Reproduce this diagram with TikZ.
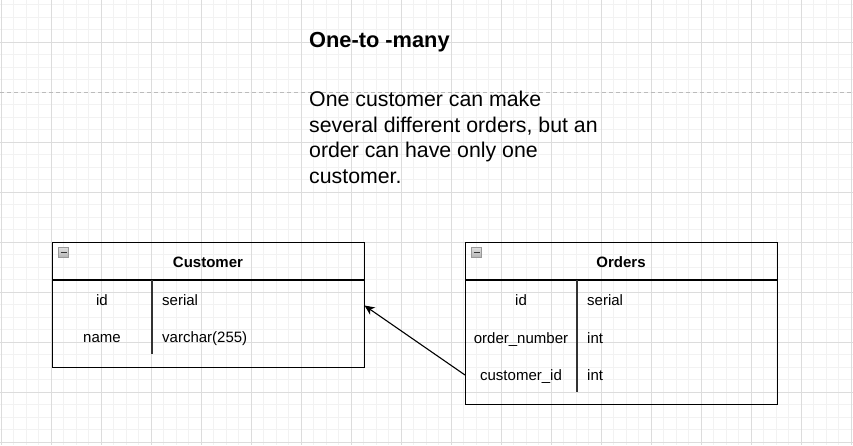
\documentclass[tikz,border=0pt]{standalone}
\usepackage{fontspec}
\setmainfont{Liberation Sans}
\usetikzlibrary{arrows.meta}
\definecolor{gridminor}{HTML}{F2F2F2}
\definecolor{gridmajor}{HTML}{DCDCDC}
\definecolor{pagebreak}{HTML}{BBBBBB}
\tikzset{
  tbl/.style={draw=black, line width=1.2pt, rectangle, inner sep=0pt},
  hdr/.style={font=\fontsize{15}{18}\selectfont\bfseries, anchor=base, inner sep=0pt},
  cell/.style={font=\fontsize{15}{18}\selectfont, inner sep=0pt},
  colkey/.style={cell, anchor=base},
  coltype/.style={cell, anchor=base west},
  divider/.style={draw=black!80, line width=1.2pt},
  collapse/.style={draw=gray!80, top color=gray!25, bottom color=gray!60, line width=0.6pt},
  rel/.style={draw=black, line width=1.1pt, -{Stealth[length=10pt,width=9pt,inset=3pt]}},
  bigtext/.style={font=\fontsize{21.3}{25.6}\selectfont, inner sep=0pt},
}
\begin{document}
\begin{tikzpicture}[x=1pt,y=-1pt]
\useasboundingbox (0,0) rectangle (853,445);
% grid
\foreach \i in {0,...,68} {
  \draw[gridminor, line width=0.8pt] ({1+12.5*\i},0) -- ({1+12.5*\i},445);
}
\foreach \i in {0,...,35} {
  \draw[gridminor, line width=0.8pt] (0,{4.5+12.5*\i}) -- (853,{4.5+12.5*\i});
}
\foreach \i in {0,...,17} {
  \draw[gridmajor, line width=0.8pt] ({1+50*\i},0) -- ({1+50*\i},445);
}
\foreach \j in {42,142,192,242,292,342,392,442} {
  \draw[gridmajor, line width=0.8pt] (0,\j) -- (853,\j);
}
\draw[pagebreak, line width=0.9pt, dash pattern=on 4pt off 3pt] (0,92) -- (853,92);

% texts
\node[bigtext, font=\fontsize{21.8}{25.6}\selectfont\bfseries, anchor=base west] (title) at (309,47.5) {One-to -many};
\node[bigtext, anchor=north west, align=left] (desc) at (309,91) {One customer can make\\several different orders, but an\\order can have only one\\customer.};

% Customer table
\node[tbl, minimum width=312pt, minimum height=125pt, anchor=north west] (cust) at (52,242) {};
\draw[tbl] (52,280) -- (364,280);
\draw[divider] (152,280) -- (152,354);
\draw[collapse] (58.5,247.5) rectangle (68.5,257.5);
\draw[black!80, line width=1.4pt] (60.5,252.5) -- (66.5,252.5);
\node[hdr] (custh) at (208,267.3) {Customer};
\node[colkey] (c1) at (102,305.5) {id};
\node[coltype] (c1t) at (162,305.5) {serial};
\node[colkey] (c2) at (102,342.8) {name};
\node[coltype] (c2t) at (162,342.8) {varchar(255)};

% Orders table
\node[tbl, minimum width=312pt, minimum height=162pt, anchor=north west] (ord) at (465,242) {};
\draw[tbl] (465,280) -- (777,280);
\draw[divider] (577,280) -- (577,392);
\draw[collapse] (471.5,247.5) rectangle (481.5,257.5);
\draw[black!80, line width=1.4pt] (473.5,252.5) -- (479.5,252.5);
\node[hdr] (ordh) at (621,267.3) {Orders};
\node[colkey] (o1) at (521,305.5) {id};
\node[coltype] (o1t) at (587,305.5) {serial};
\node[colkey] (o2) at (521,343) {order\_number};
\node[coltype] (o2t) at (587,343) {int};
\node[colkey] (o3) at (521,380.7) {customer\_id};
\node[coltype] (o3t) at (587,380.7) {int};

% relation
\coordinate (fk) at (465,375);
\coordinate (pk) at (364.5,305.5);
\draw[rel] (fk) -- (pk);
\end{tikzpicture}
\end{document}
